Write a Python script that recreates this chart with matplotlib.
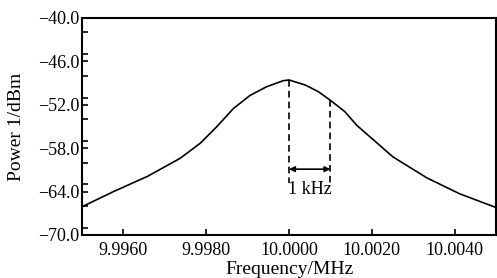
import matplotlib
matplotlib.use('Agg')
import matplotlib.pyplot as plt
from matplotlib.ticker import MultipleLocator

plt.rcParams['font.family'] = ['Liberation Serif', 'DejaVu Serif']

# curve (MHz, dBm)
freq = [9.99500, 9.99576, 9.99658, 9.99737, 9.99786, 9.99826, 9.99866,
        9.99906, 9.99946, 9.99986, 10.00000, 10.00039, 10.00071, 10.00099,
        10.00135, 10.00163, 10.00199, 10.00251, 10.00333, 10.00412, 10.00500]
power = [-66.1, -64.0, -61.9, -59.4, -57.3, -55.0, -52.5,
         -50.7, -49.5, -48.67, -48.57, -49.26, -50.19, -51.34,
         -52.95, -54.8, -56.6, -59.2, -62.1, -64.3, -66.2]

# bandwidth markers
mark_x = [10.0000, 10.0010]
mark_top = [-48.57, -51.34]
mark_bottom = -62.8
arrow_y = -60.9
bw_label = '1 kHz'

xticks = [9.9960, 9.9980, 10.0000, 10.0020, 10.0040]
xticklabels = ['9.9960', '9.9980', '10.0000', '10.0020', '10.0040']
yticks = [-70.0, -64.0, -58.0, -52.0, -46.0, -40.0]
yticklabels = ['\u221270.0', '\u221264.0', '\u221258.0', '\u221252.0',
               '\u221246.0', '\u221240.0']

fig = plt.figure(figsize=(4.97, 2.78), dpi=100)
ax = fig.add_axes([0.165, 0.1547, 0.833, 0.7806])

ax.plot(freq, power, color='black', lw=1.2)

for x, top in zip(mark_x, mark_top):
    ax.plot([x, x], [top, mark_bottom], color='black', lw=1.2,
            linestyle=(0, (4, 2.5)))
ax.annotate('', xy=(mark_x[0], arrow_y), xytext=(mark_x[1], arrow_y),
            arrowprops=dict(arrowstyle='<|-|>', color='black', lw=1.2,
                            shrinkA=0, shrinkB=0, mutation_scale=8))
ax.text(sum(mark_x) / 2, -63.7, bw_label, ha='center', va='center', fontsize=13)

ax.set_xlim(9.9950, 10.0050)
ax.set_ylim(-70, -40)
ax.set_xticks(xticks)
ax.set_xticklabels(xticklabels)
ax.set_yticks(yticks)
ax.set_yticklabels(yticklabels)
ax.yaxis.set_minor_locator(MultipleLocator(3))
ax.tick_params(which='both', direction='in', labelsize=13, width=1.2, length=4)
ax.tick_params(axis='x', pad=5)
ax.tick_params(axis='y', pad=2)
for s in ax.spines.values():
    s.set_linewidth(1.5)

ax.set_xlabel('Frequency/MHz', fontsize=14)
ax.set_ylabel('Power 1/dBm', fontsize=14)
ax.xaxis.set_label_coords(0.502, -0.12)
ax.yaxis.set_label_coords(-0.138, 0.5)

fig.savefig('out.png', dpi=100)
